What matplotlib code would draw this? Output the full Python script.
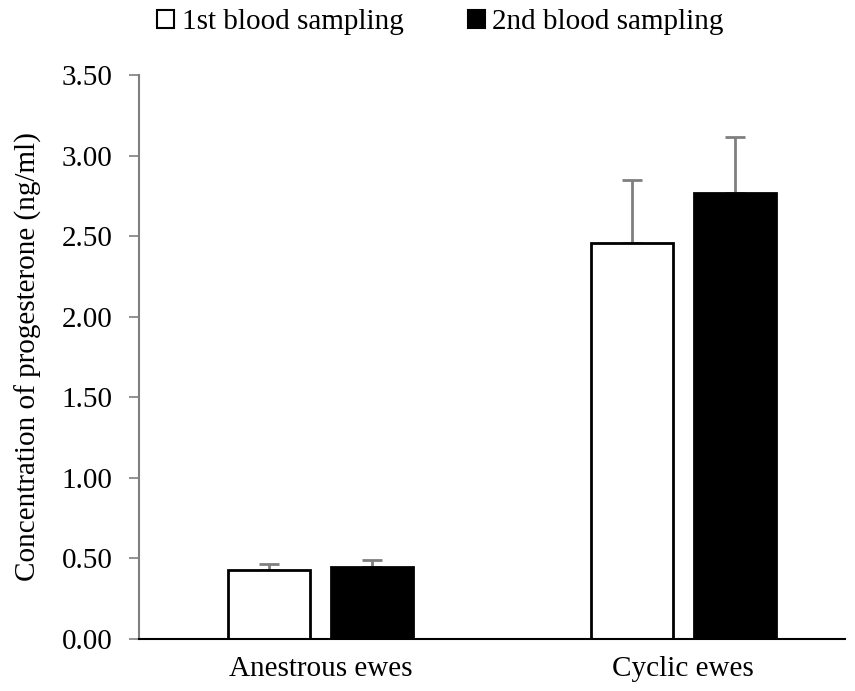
import matplotlib.pyplot as plt
import numpy as np
from matplotlib.patches import Patch

plt.rcParams["font.family"] = ["Liberation Serif", "DejaVu Serif"]

groups = ["Anestrous ewes", "Cyclic ewes"]
series = ["1st blood sampling", "2nd blood sampling"]
first_mean = [0.43, 2.46]
first_err = [0.035, 0.39]
second_mean = [0.45, 2.77]
second_err = [0.04, 0.345]

fig = plt.figure(figsize=(8.55, 6.91), dpi=100)
ax = fig.add_axes([0.1626, 0.0752, 0.8254, 0.8163])

x = np.arange(len(groups))
width = 0.226
offset = 0.142
fs = 21

# error bars go under the bars so the lower cap hides behind the bar edge
for pos, mean, err in [(x - offset, first_mean, first_err), (x + offset, second_mean, second_err)]:
    ax.errorbar(pos, mean, yerr=[np.zeros(2), err], fmt="none", ecolor="#7f7f7f",
                elinewidth=2, capsize=7, capthick=2, zorder=1)

ax.bar(x - offset, first_mean, width, color="white", edgecolor="black", linewidth=2, zorder=2)
ax.bar(x + offset, second_mean, width, color="black", edgecolor="black", linewidth=2, zorder=2)

ax.set_xlim(-0.5, 1.445)
ax.set_ylim(0, 3.5)
ticks = np.arange(0, 3.51, 0.5)
ax.set_yticks(ticks)
ax.set_yticklabels([f"{v:.2f}" for v in ticks])
ax.set_xticks(x)
ax.set_xticklabels(groups)
ax.set_ylabel("Concentration of progesterone (ng/ml)", fontsize=fs, labelpad=14)

ax.tick_params(axis="y", labelsize=fs, length=7, width=1.2, color="#7f7f7f", pad=12)
ax.tick_params(axis="x", labelsize=fs, length=0, pad=12)
for side in ["top", "right"]:
    ax.spines[side].set_visible(False)
ax.spines["left"].set_color("#7f7f7f")
ax.spines["left"].set_linewidth(1.5)
ax.spines["bottom"].set_color("black")
ax.spines["bottom"].set_linewidth(1.5)

handles = [Patch(facecolor="white", edgecolor="black", linewidth=1.5),
           Patch(facecolor="black", edgecolor="black", linewidth=1.5)]
fig.legend(handles, series, loc="center", bbox_to_anchor=(0.515, 0.968), ncol=2,
           frameon=False, fontsize=fs, handlelength=0.6, handleheight=0.6,
           handletextpad=0.25, columnspacing=2.2)

fig.savefig("out.png", dpi=100)
